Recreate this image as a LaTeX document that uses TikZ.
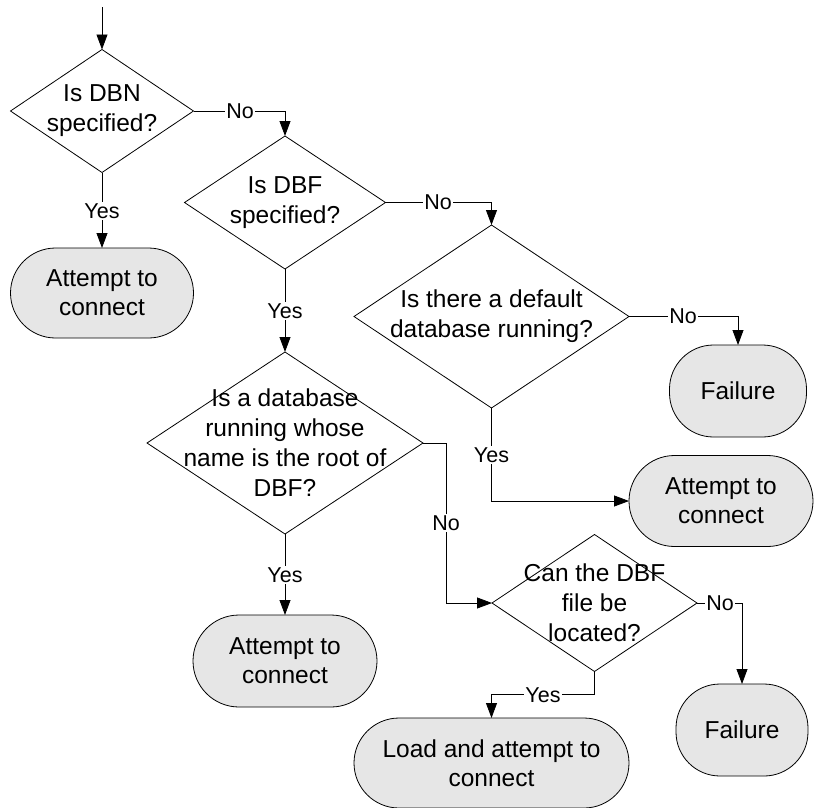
\documentclass[tikz,border=0pt]{standalone}
\usepackage{fontspec}
\setmainfont{Liberation Sans}
\usetikzlibrary{shapes.geometric,shapes.misc,arrows.meta}
\definecolor{termfill}{RGB}{230,230,230}
\begin{document}
\begin{tikzpicture}[x=1pt,y=-1pt,
  decision/.style={diamond,draw,line width=0.8pt,inner sep=0pt,outer sep=0pt},
  qtext/.style={align=center,font=\fontsize{24.5}{30}\selectfont,inner sep=0pt},
  terminal/.style={rounded rectangle,draw,fill=termfill,line width=0.8pt,
    align=center,font=\fontsize{24.5}{29}\selectfont,inner sep=0pt,outer sep=0pt},
  failbox/.style={rectangle,draw,fill=termfill,line width=0.8pt,rounded corners=44pt,
    align=center,font=\fontsize{24.5}{29}\selectfont,inner sep=0pt,outer sep=0pt},
  flow/.style={draw,line width=0.8pt,-{Triangle[length=15pt,width=11pt]}},
  lab/.style={fill=white,inner sep=1.5pt,font=\fontsize{21.5}{21.5}\selectfont}]
\useasboundingbox (0,0) rectangle (814,807);

% decisions
\node[decision,minimum width=183pt,minimum height=123pt] (d1) at (102,111) {};
\node[qtext] (q1) at (d1) {Is DBN\\specified?};
\node[decision,minimum width=201pt,minimum height=133pt] (d2) at (285,202.5) {};
\node[qtext] (q2) at (d2) {Is DBF\\specified?};
\node[decision,minimum width=275pt,minimum height=183pt] (d3) at (491.5,316.5) {};
\node[qtext] (q3) at (d3) {Is there a default\\database running?};
\node[decision,minimum width=276pt,minimum height=182pt] (d4) at (285,443) {};
\node[qtext] (q4) at (d4) {Is a database\\running whose\\name is the root of\\DBF?};
\node[decision,minimum width=205pt,minimum height=137pt] (d5) at (594.5,603) {};
\node[qtext] (q5) at (d5) {Can the DBF\\file be\\located?};

% end points
\node[terminal,minimum width=183pt,minimum height=90pt] (t1) at (102,293) {Attempt to\\connect};
\node[terminal,minimum width=184pt,minimum height=91pt] (t2) at (721,501) {Attempt to\\connect};
\node[failbox,minimum width=137pt,minimum height=92pt] (f1) at (738,391) {Failure};
\node[terminal,minimum width=184pt,minimum height=92pt] (t3) at (285,661) {Attempt to\\connect};
\node[failbox,minimum width=132pt,minimum height=92pt] (f2) at (742,730) {Failure};
\node[terminal,minimum width=275pt,minimum height=90pt] (t4) at (491.5,763) {Load and attempt to\\connect};

% connectors
\coordinate (start) at (102,7);
\draw[flow] (start) -- (d1.north);
\draw[flow] (d1.east) -| (d2.north);
\draw[flow] (d1.south) -- (t1.north);
\draw[flow] (d2.east) -| (d3.north);
\draw[flow] (d2.south) -- (d4.north);
\draw[flow] (d3.east) -| (f1.north);
\draw[flow] (d3.south) |- (t2.west);
\draw[flow] (d4.east) -- ++(23,0) |- (d5.west);
\draw[flow] (d4.south) -- (t3.north);
\draw[flow] (d5.east) -| (f2.north);
\draw[flow] (d5.south) -- ++(0,23) -| (t4.north);

% branch labels
\node[lab] (n1) at (240,111) {No};
\node[lab] (y1) at (102,211) {Yes};
\node[lab] (n2) at (438,202.5) {No};
\node[lab] (y2) at (285,311) {Yes};
\node[lab] (n3) at (683,316.5) {No};
\node[lab] (y3) at (491.5,455) {Yes};
\node[lab] (n4) at (446,523) {No};
\node[lab] (y4) at (285,575) {Yes};
\node[lab] (n5) at (720,603) {No};
\node[lab] (y5) at (543,695) {Yes};
\end{tikzpicture}
\end{document}
